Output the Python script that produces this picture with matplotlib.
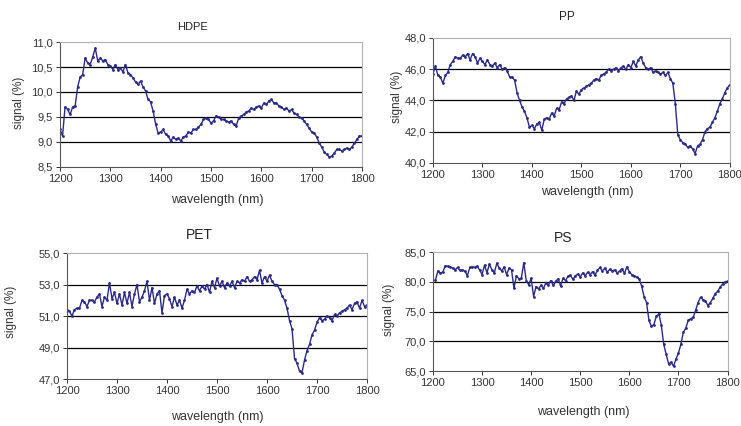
import numpy as np
import matplotlib.pyplot as plt
from matplotlib.ticker import FuncFormatter

plt.rcParams['font.family'] = ['Liberation Sans', 'DejaVu Sans']

wavelength = np.arange(1200, 1801, 5)

hdpe = [9.25, 9.12, 9.70, 9.65, 9.55, 9.70, 9.72, 10.10, 10.30, 10.35,
        10.68, 10.58, 10.55, 10.70, 10.88, 10.62, 10.68, 10.62, 10.65, 10.55,
        10.52, 10.45, 10.55, 10.45, 10.48, 10.40, 10.55, 10.38, 10.35, 10.28,
        10.20, 10.15, 10.22, 10.10, 10.02, 9.85, 9.80, 9.62, 9.35, 9.18,
        9.20, 9.25, 9.15, 9.12, 9.02, 9.10, 9.05, 9.08, 9.02, 9.10,
        9.12, 9.20, 9.18, 9.25, 9.25, 9.30, 9.35, 9.45, 9.48, 9.45,
        9.38, 9.42, 9.52, 9.50, 9.45, 9.45, 9.42, 9.40, 9.42, 9.35,
        9.32, 9.48, 9.52, 9.55, 9.60, 9.62, 9.68, 9.65, 9.70, 9.72,
        9.68, 9.78, 9.75, 9.82, 9.85, 9.78, 9.78, 9.72, 9.70, 9.65,
        9.68, 9.62, 9.65, 9.58, 9.55, 9.50, 9.48, 9.42, 9.35, 9.28,
        9.20, 9.18, 9.10, 8.98, 8.90, 8.80, 8.75, 8.70, 8.72, 8.78,
        8.85, 8.85, 8.82, 8.85, 8.88, 8.85, 8.90, 8.98, 9.05, 9.12,
        9.12]

pp = [45.7, 46.2, 45.6, 45.5, 45.1, 45.6, 45.8, 46.3, 46.5, 46.8,
      46.7, 46.7, 46.9, 46.8, 47.0, 46.6, 47.0, 46.8, 46.4, 46.7,
      46.5, 46.3, 46.6, 46.3, 46.2, 46.4, 46.1, 46.3, 46.0, 46.1,
      45.9, 45.5, 45.5, 45.3, 44.5, 44.0, 43.6, 43.3, 42.9, 42.3,
      42.4, 42.2, 42.5, 42.6, 42.1, 42.8, 42.9, 42.8, 43.2, 43.0,
      43.5, 43.4, 43.9, 43.8, 44.1, 44.2, 44.3, 44.0, 44.6, 44.4,
      44.7, 44.8, 44.9, 45.0, 45.1, 45.3, 45.4, 45.3, 45.6, 45.7,
      45.8, 46.0, 45.9, 46.0, 46.1, 45.9, 46.1, 46.2, 46.0, 46.3,
      46.1, 46.5, 46.2, 46.6, 46.8, 46.4, 46.1, 46.0, 46.1, 45.8,
      45.9, 45.8, 45.7, 45.8, 45.6, 45.8, 45.4, 45.1, 43.8, 41.8,
      41.5, 41.3, 41.2, 41.0, 41.1, 40.9, 40.6, 41.1, 41.2, 41.5,
      42.0, 42.2, 42.3, 42.6, 42.9, 43.3, 43.8, 44.1, 44.5, 44.8,
      45.0]

pet = [51.4, 51.3, 51.0, 51.4, 51.5, 51.5, 52.0, 51.9, 51.6, 52.0,
       52.0, 51.9, 52.2, 52.4, 51.6, 52.2, 52.0, 53.1, 52.1, 52.5,
       51.8, 52.4, 51.7, 52.5, 51.8, 52.5, 51.6, 52.4, 53.0, 51.9,
       52.2, 52.6, 53.2, 52.0, 52.8, 51.8, 52.4, 52.6, 51.2, 52.3,
       52.4, 52.1, 51.6, 52.2, 51.7, 52.0, 51.5, 52.0, 52.7, 52.4,
       52.6, 52.5, 52.9, 52.6, 52.9, 52.7, 53.0, 52.5, 53.2, 52.8,
       53.4, 52.9, 53.2, 52.8, 53.1, 52.9, 53.2, 52.8, 53.2, 53.1,
       53.3, 53.2, 53.5, 53.2, 53.3, 53.5, 53.3, 53.9, 53.1, 53.5,
       53.2, 53.6, 53.2, 53.0, 53.0, 52.7, 52.3, 52.0, 51.5, 50.7,
       50.2, 48.3, 48.0, 47.5, 47.4, 48.2, 48.8, 49.2, 49.8, 50.1,
       50.6, 50.9, 50.7, 50.8, 51.0, 50.9, 50.7, 51.1, 51.0, 51.2,
       51.3, 51.4, 51.5, 51.7, 51.4, 51.8, 51.9, 51.5, 52.0, 51.6,
       51.7]

ps = [np.nan, 80.3, 81.8, 81.5, 81.6, 82.7, 82.6, 82.5, 82.3, 82.0,
      82.4, 81.9, 82.0, 81.8, 81.0, 82.4, 82.5, 82.4, 82.6, 82.0,
      81.2, 82.8, 81.5, 83.0, 82.0, 81.5, 83.1, 82.3, 81.8, 82.5,
      81.2, 82.3, 82.0, 78.9, 81.0, 80.5, 80.6, 83.2, 80.2, 79.5,
      80.6, 77.5, 79.2, 78.8, 79.4, 78.9, 79.8, 79.5, 80.2, 79.4,
      80.1, 80.5, 79.3, 80.6, 80.2, 80.9, 81.1, 80.4, 81.0, 81.3,
      80.8, 81.5, 81.0, 81.6, 81.2, 81.7, 81.1, 81.9, 82.4, 81.8,
      82.3, 81.6, 82.1, 81.8, 82.0, 81.5, 81.8, 82.2, 81.4, 82.5,
      81.7, 81.2, 81.0, 80.8, 80.5, 79.3, 77.5, 76.5, 73.5, 72.5,
      72.8, 74.2, 74.6, 72.8, 69.5, 67.8, 66.2, 66.5, 65.8, 67.0,
      68.0, 69.5, 71.5, 72.2, 73.5, 73.8, 74.0, 75.2, 76.5, 77.4,
      77.0, 76.8, 76.0, 76.5, 77.2, 78.0, 78.4, 79.1, 79.6, 80.0,
      80.1]

# name, data, y range, y step, axes rect, title pos, title size, xlabel pos, ylabel pos
panels = [
    ('HDPE', hdpe, (8.5, 11.0), 0.5, [0.081, 0.608, 0.4075, 0.2934], (193, 27), 8, (217, 200), (19, 103)),
    ('PP', pp, (40.0, 48.0), 2.0, [0.5843, 0.6174, 0.4005, 0.2934], (567, 17), 8.5, (587, 192), (397, 97)),
    ('PET', pet, (47.0, 55.0), 2.0, [0.0904, 0.1103, 0.4049, 0.2958], (199, 235), 10, (217, 417), (11, 312)),
    ('PS', ps, (65.0, 85.0), 5.0, [0.5843, 0.1291, 0.3975, 0.2793], (563, 238), 10, (583, 412), (389, 310)),
]

W, H = 741, 426
fig = plt.figure(figsize=(W / 100, H / 100), dpi=100, facecolor='white')
comma = FuncFormatter(lambda v, p: ('%.1f' % v).replace('.', ','))

for name, vals, (lo, hi), step, rect, tpos, tsize, xlpos, ylpos in panels:
    ax = fig.add_axes(rect)
    ax.plot(wavelength, vals, color='#2a2a85', lw=1.0, marker='o', ms=2.0, mew=0)
    ax.set_xlim(1200, 1800)
    ax.set_ylim(lo, hi)
    ax.set_xticks(np.arange(1200, 1801, 100))
    ax.set_yticks(np.arange(lo, hi + step / 2, step))
    ax.yaxis.set_major_formatter(comma)
    for y in np.arange(lo + step, hi, step):
        ax.axhline(y, color='black', lw=0.9, zorder=0)
    for s in ['top', 'right']:
        ax.spines[s].set_color('#b0b0b0')
        ax.spines[s].set_linewidth(0.8)
    for s in ['left', 'bottom']:
        ax.spines[s].set_color('#555555')
        ax.spines[s].set_linewidth(0.8)
    ax.tick_params(labelsize=8, colors='#333333', length=3, width=0.7, pad=2)
    fig.text(tpos[0] / W, 1 - tpos[1] / H, name, ha='center', va='center', fontsize=tsize, color='#222222')
    fig.text(xlpos[0] / W, 1 - xlpos[1] / H, 'wavelength (nm)', ha='center', va='center', fontsize=9, color='#333333')
    fig.text(ylpos[0] / W, 1 - ylpos[1] / H, 'signal (%)', ha='center', va='center', rotation=90, fontsize=8.5, color='#333333')

plt.savefig('out.png', dpi=100)
